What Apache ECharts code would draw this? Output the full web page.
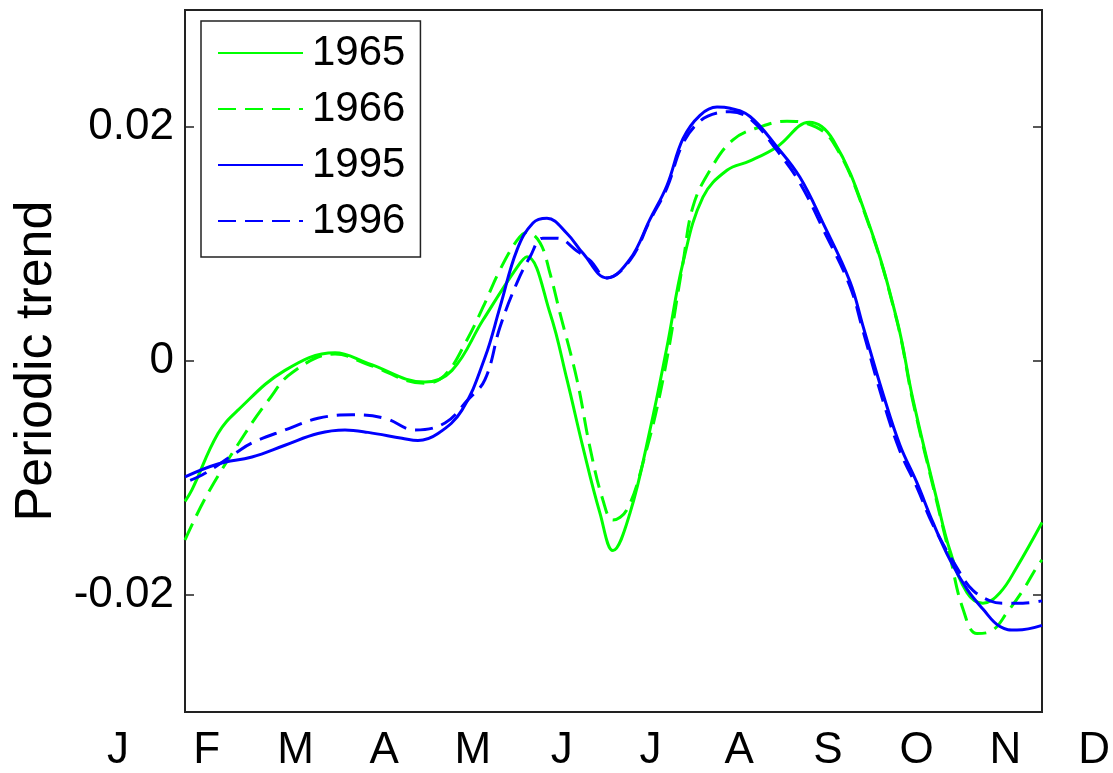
<!DOCTYPE html>
<html>
<head>
<meta charset="utf-8">
<title>Periodic trend</title>
<script src="https://cdn.jsdelivr.net/npm/echarts@6/dist/echarts.min.js"></script>
<style>
  html, body { margin: 0; padding: 0; background: #fff; }
  #chart { width: 1113px; height: 773px; }
</style>
</head>
<body>
<div id="chart"></div>
<script>
// Month labels, placed at integer positions 0 (Jan) .. 11 (Dec)
const monthLabels = ['J', 'F', 'M', 'A', 'M', 'J', 'J', 'A', 'S', 'O', 'N', 'D'];
const monthPositions = [0, 1, 2, 3, 4, 5, 6, 7, 8, 9, 10, 11];

// Visible span of the time axis, in month units
const xStart = 0.752;
const xEnd = 10.372;

// Y ticks
const yTicks = [-0.02, 0, 0.02];
const yTickLabels = ['-0.02', '0', '0.02'];

const seriesNames = ['1965', '1966', '1995', '1996'];

// Each series: [month position, periodic trend]
const trend1965 = [
  [0.752, -0.0120], [0.831, -0.0110], [1.122, -0.0062], [1.347, -0.0042],
  [1.874, -0.0008], [2.436, 0.0007], [2.806, -0.0002], [3.446, -0.0018],
  [3.749, -0.0008], [4.097, 0.0035], [4.479, 0.0080], [4.591, 0.0089],
  [4.849, 0.0041], [5.040, -0.0016], [5.220, -0.0074], [5.410, -0.0130],
  [5.556, -0.0162], [5.747, -0.0130], [5.971, -0.0059], [6.162, 0.0012],
  [6.342, 0.0084], [6.566, 0.0140], [6.836, 0.0163], [7.094, 0.0171],
  [7.397, 0.0183], [7.760, 0.0204], [8.026, 0.0189], [8.407, 0.0122],
  [8.744, 0.0035], [8.924, -0.0033], [9.193, -0.0119], [9.339, -0.0162],
  [9.530, -0.0198], [9.709, -0.0207], [9.900, -0.0198], [10.091, -0.0176],
  [10.372, -0.0138]
];

const trend1966 = [
  [0.752, -0.0153], [1.010, -0.0113], [1.426, -0.0062], [1.684, -0.0034],
  [1.953, -0.0010], [2.436, 0.0006], [2.806, -0.0003], [3.446, -0.0019],
  [3.670, -0.0012], [3.917, 0.0018], [4.097, 0.0046], [4.288, 0.0078],
  [4.479, 0.0103], [4.591, 0.0110], [4.737, 0.0101], [4.849, 0.0075],
  [4.961, 0.0041], [5.152, -0.0016], [5.298, -0.0074], [5.444, -0.0119],
  [5.556, -0.0136], [5.713, -0.0127], [5.893, -0.0087], [6.117, -0.0016],
  [6.342, 0.0084], [6.454, 0.0132], [6.645, 0.0163], [6.903, 0.0189],
  [7.206, 0.0200], [7.509, 0.0205], [7.734, 0.0203], [8.026, 0.0187],
  [8.407, 0.0121], [8.744, 0.0034], [8.924, -0.0035], [9.193, -0.0121],
  [9.339, -0.0167], [9.485, -0.0212], [9.642, -0.0233], [9.821, -0.0230],
  [9.979, -0.0215], [10.158, -0.0196], [10.315, -0.0176], [10.372, -0.0170]
];

const trend1995 = [
  [0.752, -0.0099], [1.122, -0.0088], [1.504, -0.0082], [1.874, -0.0072],
  [2.245, -0.0062], [2.548, -0.0059], [2.806, -0.0061], [3.188, -0.0066],
  [3.367, -0.0068], [3.592, -0.0062], [3.861, -0.0042], [4.119, 0.0003],
  [4.288, 0.0046], [4.479, 0.0095], [4.658, 0.0118], [4.815, 0.0122],
  [5.040, 0.0109], [5.220, 0.0092], [5.489, 0.0071], [5.747, 0.0087],
  [5.971, 0.0121], [6.162, 0.0150], [6.342, 0.0190], [6.533, 0.0210],
  [6.724, 0.0217], [6.870, 0.0216], [7.094, 0.0209], [7.397, 0.0183],
  [7.655, 0.0157], [7.913, 0.0118], [8.216, 0.0068], [8.362, 0.0030],
  [8.587, -0.0028], [8.778, -0.0072], [8.968, -0.0104], [9.148, -0.0138],
  [9.339, -0.0170], [9.530, -0.0195], [9.709, -0.0212], [9.900, -0.0227],
  [10.091, -0.0230], [10.372, -0.0226]
];

const trend1996 = [
  [0.810, -0.0102], [0.977, -0.0096], [1.313, -0.0079], [1.504, -0.0070],
  [1.874, -0.0059], [2.245, -0.0049], [2.627, -0.0046], [2.997, -0.0049],
  [3.334, -0.0059], [3.670, -0.0053], [3.929, -0.0033], [4.119, -0.0016],
  [4.288, 0.0029], [4.479, 0.0067], [4.625, 0.0089], [4.770, 0.0105],
  [4.928, 0.0105], [5.152, 0.0094], [5.298, 0.0086], [5.489, 0.0071],
  [5.747, 0.0086], [5.971, 0.0120], [6.162, 0.0148], [6.342, 0.0186],
  [6.533, 0.0205], [6.724, 0.0212], [6.870, 0.0213], [7.094, 0.0207],
  [7.397, 0.0180], [7.655, 0.0152], [7.913, 0.0113], [8.216, 0.0064],
  [8.362, 0.0026], [8.587, -0.0034], [8.778, -0.0077], [8.968, -0.0108],
  [9.148, -0.0140], [9.451, -0.0181], [9.597, -0.0196], [9.788, -0.0205],
  [9.934, -0.0207], [10.158, -0.0207], [10.372, -0.0205]
];

const seriesData = [trend1965, trend1966, trend1995, trend1996];
const seriesColors = ['#00ff00', '#00ff00', '#0000ff', '#0000ff'];
const seriesDash = ['solid', [18, 9], 'solid', [18, 9]];

const FONT = '"Liberation Sans", Arial, Helvetica, sans-serif';
const chart = echarts.init(document.getElementById('chart'), null, { renderer: 'canvas' });

const option = {
  backgroundColor: '#ffffff',
  animation: false,
  textStyle: { fontFamily: FONT, color: '#000' },
  grid: [
    // plot frame
    { left: 185, right: 71, top: 10, bottom: 61, show: true,
      borderColor: '#222', borderWidth: 2, backgroundColor: 'transparent' },
    // wider band that carries the month letters
    { left: 118, right: 15, top: 10, bottom: 61, show: false }
  ],
  xAxis: [
    { type: 'value', gridIndex: 0, min: xStart, max: xEnd,
      axisLine: { show: false }, axisTick: { show: false },
      axisLabel: { show: false }, splitLine: { show: false } },
    { type: 'value', gridIndex: 1, min: 0, max: 11, interval: 1,
      axisLine: { show: false }, axisTick: { show: false }, splitLine: { show: false },
      axisLabel: {
        show: true, margin: 22, fontSize: 44, fontFamily: FONT, color: '#000',
        showMinLabel: true, showMaxLabel: true,
        formatter: function (v) {
          const i = monthPositions.indexOf(Math.round(v));
          return i >= 0 ? monthLabels[i] : '';
        }
      } }
  ],
  yAxis: [
    { type: 'value', gridIndex: 0, min: -0.03, max: 0.03, position: 'left',
      name: 'Periodic trend', nameLocation: 'middle', nameGap: 122, nameRotate: 90,
      nameTextStyle: { fontSize: 52, fontFamily: FONT, color: '#000' },
      axisLine: { show: false },
      axisTick: { show: true, inside: true, length: 9, customValues: yTicks,
        lineStyle: { color: '#222', width: 1.5 } },
      axisLabel: { show: true, margin: 11, fontSize: 44, fontFamily: FONT, color: '#000',
        customValues: yTicks,
        formatter: function (v) {
          const i = yTicks.findIndex(t => Math.abs(t - v) < 1e-9);
          return i >= 0 ? yTickLabels[i] : '';
        } },
      splitLine: { show: false } },
    { type: 'value', gridIndex: 0, min: -0.03, max: 0.03, position: 'right',
      axisLine: { show: false },
      axisTick: { show: true, inside: true, length: 9, customValues: yTicks,
        lineStyle: { color: '#222', width: 1.5 } },
      axisLabel: { show: false }, splitLine: { show: false } },
    { type: 'value', gridIndex: 1, show: false }
  ],
  legend: {
    orient: 'vertical', left: 201, top: 21,
    data: seriesNames,
    backgroundColor: '#fff',
    borderColor: '#222', borderWidth: 1.5, borderRadius: 0,
    padding: [11, 15, 15, 16],
    itemWidth: 85, itemHeight: 20, itemGap: 14,
    itemStyle: { opacity: 0 },
    textStyle: { fontSize: 42, fontFamily: FONT, color: '#000', padding: [0, 0, 0, 4] },
    selectedMode: false
  },
  series: seriesNames.map((name, i) => ({
    name: name,
    type: 'line',
    xAxisIndex: 0, yAxisIndex: 0,
    data: seriesData[i],
    smooth: 0.4,
    symbol: 'none',
    showSymbol: false,
    clip: true,
    lineStyle: { color: seriesColors[i], width: 3, type: seriesDash[i] },
    itemStyle: { color: seriesColors[i] }
  }))
};

chart.setOption(option);
</script>
</body>
</html>
